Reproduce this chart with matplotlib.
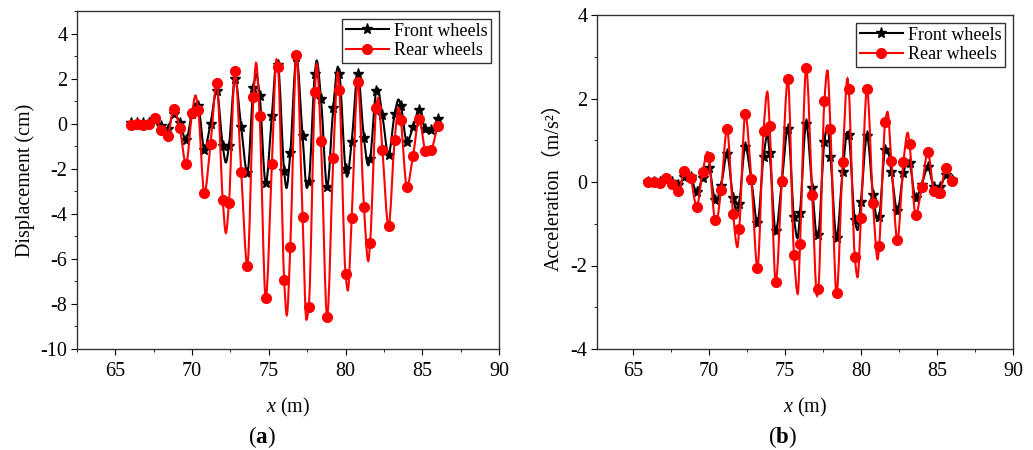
import numpy as np
import matplotlib.pyplot as plt
from matplotlib.path import Path
from matplotlib.patches import PathPatch
from matplotlib.lines import Line2D
from matplotlib.ticker import MultipleLocator

plt.rcParams['font.family'] = ['Liberation Serif', 'Noto Sans CJK SC']
plt.rcParams['mathtext.fontset'] = 'custom'
plt.rcParams['mathtext.rm'] = 'Liberation Serif'
plt.rcParams['mathtext.it'] = 'Liberation Serif:italic'
plt.rcParams['mathtext.bf'] = 'Liberation Serif:bold'
plt.rcParams['axes.unicode_minus'] = False
plt.rcParams['font.size'] = 14.5

# positions of the plotted samples along the bridge (m)
x_mark = np.linspace(66.0, 86.0, 51)

# (a) vertical displacement (cm)
disp_front = [0.03, 0.05, 0.02, 0.05, 0.18, -0.10, -0.22, 0.45, 0.05, -0.72,
              0.45, 0.80, -1.15, 0.00, 1.45, -1.00, -1.00, 2.00, -0.15, -2.20,
              1.60, 1.25, -2.65, 0.35, 2.60, -2.10, -1.30, 2.95, -0.55, -2.60,
              2.20, 1.10, -2.80, 0.70, 2.20, -2.00, -0.80, 2.20, -0.65, -1.55,
              1.45, 0.37, -1.37, 0.42, 0.80, -0.81, -0.15, 0.62, -0.25, -0.30,
              0.22]
disp_rear = [-0.07, -0.03, -0.07, -0.03, 0.27, -0.30, -0.56, 0.63, -0.20, -1.80,
             0.46, 0.59, -3.08, -0.92, 1.80, -3.40, -3.53, 2.32, -2.13, -6.30,
             1.17, 0.32, -7.75, -1.80, 2.51, -6.92, -5.46, 3.03, -4.13, -8.13,
             1.42, -0.78, -8.56, -1.52, 1.50, -6.67, -4.19, 1.85, -3.70, -5.28,
             0.71, -1.15, -4.55, -0.74, 0.15, -2.80, -1.42, 0.22, -1.21, -1.15,
             -0.09]
# turning points of the curves that fall between samples
disp_front_tx = [70.25, 72.2, 74.18, 75.5, 76.15, 77.48, 78.12, 79.5, 80.1, 81.48, 82.08, 83.45, 85.4]
disp_front_ty = [0.9, -1.72, 2.2, 2.75, -2.85, -2.85, 2.8, 2.52, -2.35, -1.85, 1.57, 1.07, -0.32]
disp_rear_tx = [70.22, 72.2, 74.17, 75.5, 76.17, 77.45, 78.12, 79.5, 80.15, 81.48, 82.12, 83.45, 85.4]
disp_rear_ty = [1.25, -4.85, 2.7, 2.85, -8.5, -8.7, 2.65, 2.3, -7.4, -6.1, 1.15, 0.7, -1.38]

# (b) vertical acceleration (m/s^2)
acc_front = [0.00, -0.01, 0.00, 0.04, 0.00, -0.08, 0.12, 0.13, -0.24, 0.10,
             0.33, -0.43, -0.10, 0.66, -0.38, -0.53, 0.84, 0.04, -0.99, 0.61,
             0.69, -1.18, 0.00, 1.28, -0.85, -0.75, 1.39, -0.15, -1.27, 0.97,
             0.61, -1.33, 0.25, 1.12, -0.91, -0.47, 1.10, -0.30, -0.83, 0.77,
             0.25, -0.69, 0.22, 0.45, -0.39, -0.06, 0.35, -0.11, -0.13, 0.17,
             0.05]
acc_rear = [0.01, 0.00, -0.02, 0.09, -0.05, -0.21, 0.26, 0.10, -0.59, 0.25,
            0.60, -0.91, -0.20, 1.26, -0.77, -1.13, 1.62, 0.06, -2.05, 1.23,
            1.35, -2.39, 0.03, 2.46, -1.75, -1.49, 2.72, -0.31, -2.57, 1.94,
            1.27, -2.67, 0.49, 2.22, -1.80, -0.87, 2.22, -0.51, -1.53, 1.43,
            0.51, -1.39, 0.49, 0.90, -0.79, -0.13, 0.71, -0.21, -0.26, 0.33,
            0.03]
acc_front_tx = [68.52, 70.48, 71.88, 73.85, 75.83, 77.13, 77.8, 79.12, 79.78, 81.1, 81.75, 83.08, 85.02]
acc_front_ty = [0.18, -0.47, -0.74, 1.12, -1.35, -1.33, 1.35, 1.2, -1.15, -0.93, 0.8, 0.52, -0.16]
acc_rear_tx = [68.5, 69.92, 70.48, 71.88, 73.85, 75.85, 77.12, 77.8, 79.12, 79.78, 81.1, 81.75, 83.08, 85.05]
acc_rear_ty = [0.28, 0.72, -0.99, -1.56, 2.16, -2.68, -2.73, 2.68, 2.48, -2.28, -1.85, 1.68, 1.18, -0.38]


def smooth_path(xs, ys, tx, ty):
    # merge samples and turning points, join them with monotone cubic Bezier segments
    x = np.concatenate([xs, tx])
    y = np.concatenate([ys, ty])
    order = np.argsort(x)
    x, y = x[order], y[order]
    h = np.diff(x)
    d = np.diff(y) / h
    m = np.zeros_like(y)
    for i in range(1, len(x) - 1):
        if d[i - 1] * d[i] > 0:
            w1 = 2 * h[i] + h[i - 1]
            w2 = h[i] + 2 * h[i - 1]
            m[i] = (w1 + w2) / (w1 / d[i - 1] + w2 / d[i])
    m[0] = d[0]
    m[-1] = d[-1]
    verts = [(x[0], y[0])]
    codes = [Path.MOVETO]
    for i in range(len(h)):
        verts += [(x[i] + h[i] / 3, y[i] + m[i] * h[i] / 3),
                  (x[i + 1] - h[i] / 3, y[i + 1] - m[i + 1] * h[i] / 3),
                  (x[i + 1], y[i + 1])]
        codes += [Path.CURVE4] * 3
    return Path(verts, codes)


def draw_panel(ax, front, rear, ftx, fty, rtx, rty):
    ax.add_patch(PathPatch(smooth_path(x_mark, front, ftx, fty), fc='none', ec='black', lw=1.5, zorder=2))
    ax.plot(x_mark, front, ls='none', marker='*', ms=8, color='black', zorder=3)
    ax.add_patch(PathPatch(smooth_path(x_mark, rear, rtx, rty), fc='none', ec='red', lw=1.5, zorder=4))
    ax.plot(x_mark, rear, ls='none', marker='o', ms=7, color='red', zorder=5)
    handles = [Line2D([], [], color='black', lw=1.5, marker='*', ms=8),
               Line2D([], [], color='red', lw=1.5, marker='o', ms=7)]
    leg = ax.legend(handles, ['Front wheels', 'Rear wheels'], loc='upper right',
                    fancybox=False, framealpha=1, edgecolor='#333333', fontsize=13,
                    handlelength=2.4, borderpad=0.2, labelspacing=0.15,
                    handletextpad=0.25, borderaxespad=0.45)
    leg.get_frame().set_linewidth(1.0)
    ax.xaxis.set_major_locator(MultipleLocator(5))
    ax.xaxis.set_minor_locator(MultipleLocator(2.5))
    ax.yaxis.set_major_locator(MultipleLocator(2))
    ax.yaxis.set_minor_locator(MultipleLocator(1))
    ax.tick_params(which='both', direction='out', top=False, right=False)
    ax.tick_params(axis='x', which='major', length=4, pad=5)
    ax.tick_params(axis='y', which='major', length=4, pad=3)
    ax.tick_params(which='minor', length=2.5)
    for s in ax.spines.values():
        s.set_color('#333333')
        s.set_linewidth(1.0)
    ax.set_xlabel(r'$x$ (m)', fontsize=14.5, labelpad=11)


fig = plt.figure(figsize=(10.33, 4.5), dpi=100)
ax1 = fig.add_axes([77 / 1033, 101 / 450, 422 / 1033, 338 / 450])
ax2 = fig.add_axes([597 / 1033, 101 / 450, 416 / 1033, 334 / 450])

draw_panel(ax1, disp_front, disp_rear, disp_front_tx, disp_front_ty, disp_rear_tx, disp_rear_ty)
ax1.set_xlim(62.5, 90)
ax1.set_ylim(-10, 5)
ax1.set_ylabel('Displacement (cm)', fontsize=14.5, labelpad=4)

draw_panel(ax2, acc_front, acc_rear, acc_front_tx, acc_front_ty, acc_rear_tx, acc_rear_ty)
ax2.set_xlim(62.65, 90)
ax2.set_ylim(-4, 4)
ax2.set_ylabel('Acceleration（m/s²）', fontsize=14.5, labelpad=5)

fig.text(262 / 1033, 0.029, r'($\mathbf{a}$)', ha='center', va='center', fontsize=16.5)
fig.text(782 / 1033, 0.029, r'($\mathbf{b}$)', ha='center', va='center', fontsize=16.5)

fig.savefig('out.png', dpi=100)
